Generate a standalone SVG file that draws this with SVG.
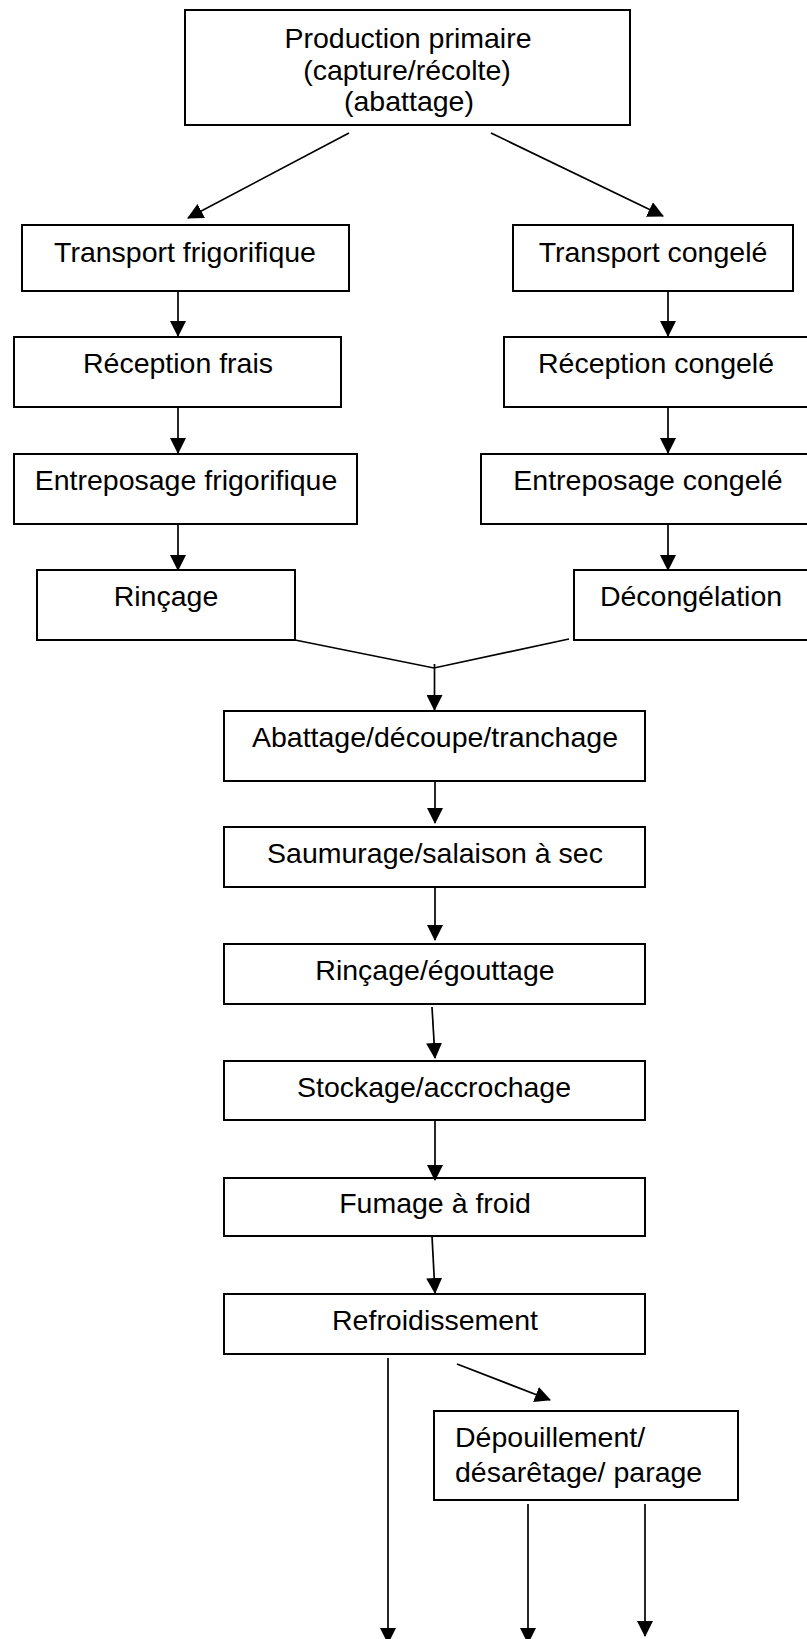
<svg xmlns="http://www.w3.org/2000/svg" width="807" height="1639" viewBox="0 0 807 1639">
  <style>
    .box { fill: #ffffff; stroke: #000000; stroke-width: 2; }
    .lbl { font-family: "Liberation Sans", Arial, sans-serif; font-size: 28.5px; fill: #000000; text-anchor: middle; }
    .lbl-left { text-anchor: start; }
    .wire { fill: none; stroke: #000000; stroke-width: 1.7; }
    .arrow { marker-end: url(#head); }
  </style>
  <defs>
    <marker id="head" markerUnits="userSpaceOnUse" markerWidth="16" markerHeight="16" viewBox="0 0 16 16" refX="15" refY="8" orient="auto">
      <path d="M0,0 L16,8 L0,16 Z" fill="#000000"/>
    </marker>
  </defs>
  <rect width="807" height="1639" fill="#ffffff"/>

  <!-- process steps -->
  <g id="production-primaire">
    <rect class="box" x="185" y="10" width="445" height="115"/>
    <text class="lbl" x="408" y="48">Production primaire</text>
    <text class="lbl" x="407" y="80">(capture/récolte)</text>
    <text class="lbl" x="409" y="111">(abattage)</text>
  </g>
  <g id="transport-frigorifique">
    <rect class="box" x="22" y="225" width="327" height="66"/>
    <text class="lbl" x="185" y="262">Transport frigorifique</text>
  </g>
  <g id="transport-congele">
    <rect class="box" x="513" y="225" width="280" height="66"/>
    <text class="lbl" x="653" y="262">Transport congelé</text>
  </g>
  <g id="reception-frais">
    <rect class="box" x="14" y="337" width="327" height="70"/>
    <text class="lbl" x="178" y="373">Réception frais</text>
  </g>
  <g id="reception-congele">
    <rect class="box" x="504" y="337" width="306" height="70"/>
    <text class="lbl" x="656" y="373">Réception congelé</text>
  </g>
  <g id="entreposage-frigorifique">
    <rect class="box" x="14" y="454" width="343" height="70"/>
    <text class="lbl" x="186" y="490">Entreposage frigorifique</text>
  </g>
  <g id="entreposage-congele">
    <rect class="box" x="481" y="454" width="335" height="70"/>
    <text class="lbl" x="648" y="490">Entreposage congelé</text>
  </g>
  <g id="rincage">
    <rect class="box" x="37" y="570" width="258" height="70"/>
    <text class="lbl" x="166" y="606">Rinçage</text>
  </g>
  <g id="decongelation">
    <rect class="box" x="574" y="570" width="236" height="70"/>
    <text class="lbl" x="691" y="606">Décongélation</text>
  </g>
  <g id="abattage-decoupe">
    <rect class="box" x="224" y="711" width="421" height="70"/>
    <text class="lbl" x="435" y="747">Abattage/découpe/tranchage</text>
  </g>
  <g id="saumurage">
    <rect class="box" x="224" y="827" width="421" height="60"/>
    <text class="lbl" x="435" y="863">Saumurage/salaison à sec</text>
  </g>
  <g id="rincage-egouttage">
    <rect class="box" x="224" y="944" width="421" height="60"/>
    <text class="lbl" x="435" y="980">Rinçage/égouttage</text>
  </g>
  <g id="stockage">
    <rect class="box" x="224" y="1061" width="421" height="59"/>
    <text class="lbl" x="434" y="1097">Stockage/accrochage</text>
  </g>
  <g id="fumage">
    <rect class="box" x="224" y="1178" width="421" height="58"/>
    <text class="lbl" x="435" y="1213">Fumage à froid</text>
  </g>
  <g id="refroidissement">
    <rect class="box" x="224" y="1294" width="421" height="60"/>
    <text class="lbl" x="435" y="1330">Refroidissement</text>
  </g>
  <g id="depouillement">
    <rect class="box" x="434" y="1411" width="304" height="89"/>
    <text class="lbl lbl-left" x="455" y="1447">Dépouillement/</text>
    <text class="lbl lbl-left" x="455" y="1482">désarêtage/ parage</text>
  </g>

  <!-- connectors -->
  <g id="connectors">
    <line class="wire arrow" x1="349" y1="133" x2="188" y2="218"/>
    <line class="wire arrow" x1="491" y1="133" x2="663" y2="216"/>
    <line class="wire arrow" x1="178" y1="291" x2="178" y2="336"/>
    <line class="wire arrow" x1="668" y1="291" x2="668" y2="336"/>
    <line class="wire arrow" x1="178" y1="407" x2="178" y2="453"/>
    <line class="wire arrow" x1="668" y1="407" x2="668" y2="453"/>
    <line class="wire arrow" x1="178" y1="524" x2="178" y2="570"/>
    <line class="wire arrow" x1="668" y1="524" x2="668" y2="570"/>
    <polyline class="wire" points="295,640 434,668 569,639"/>
    <line class="wire arrow" x1="434.5" y1="664" x2="434.5" y2="710"/>
    <line class="wire arrow" x1="435" y1="781" x2="435" y2="823"/>
    <line class="wire arrow" x1="435" y1="887" x2="435" y2="940"/>
    <line class="wire arrow" x1="432" y1="1007" x2="435" y2="1058"/>
    <line class="wire arrow" x1="435" y1="1120" x2="435" y2="1180"/>
    <line class="wire arrow" x1="432" y1="1236" x2="435" y2="1293"/>
    <line class="wire arrow" x1="388" y1="1358" x2="388" y2="1643"/>
    <line class="wire arrow" x1="457" y1="1364" x2="550" y2="1400"/>
    <line class="wire arrow" x1="528" y1="1504" x2="528" y2="1643"/>
    <line class="wire arrow" x1="645" y1="1504" x2="645" y2="1636"/>
  </g>
</svg>
